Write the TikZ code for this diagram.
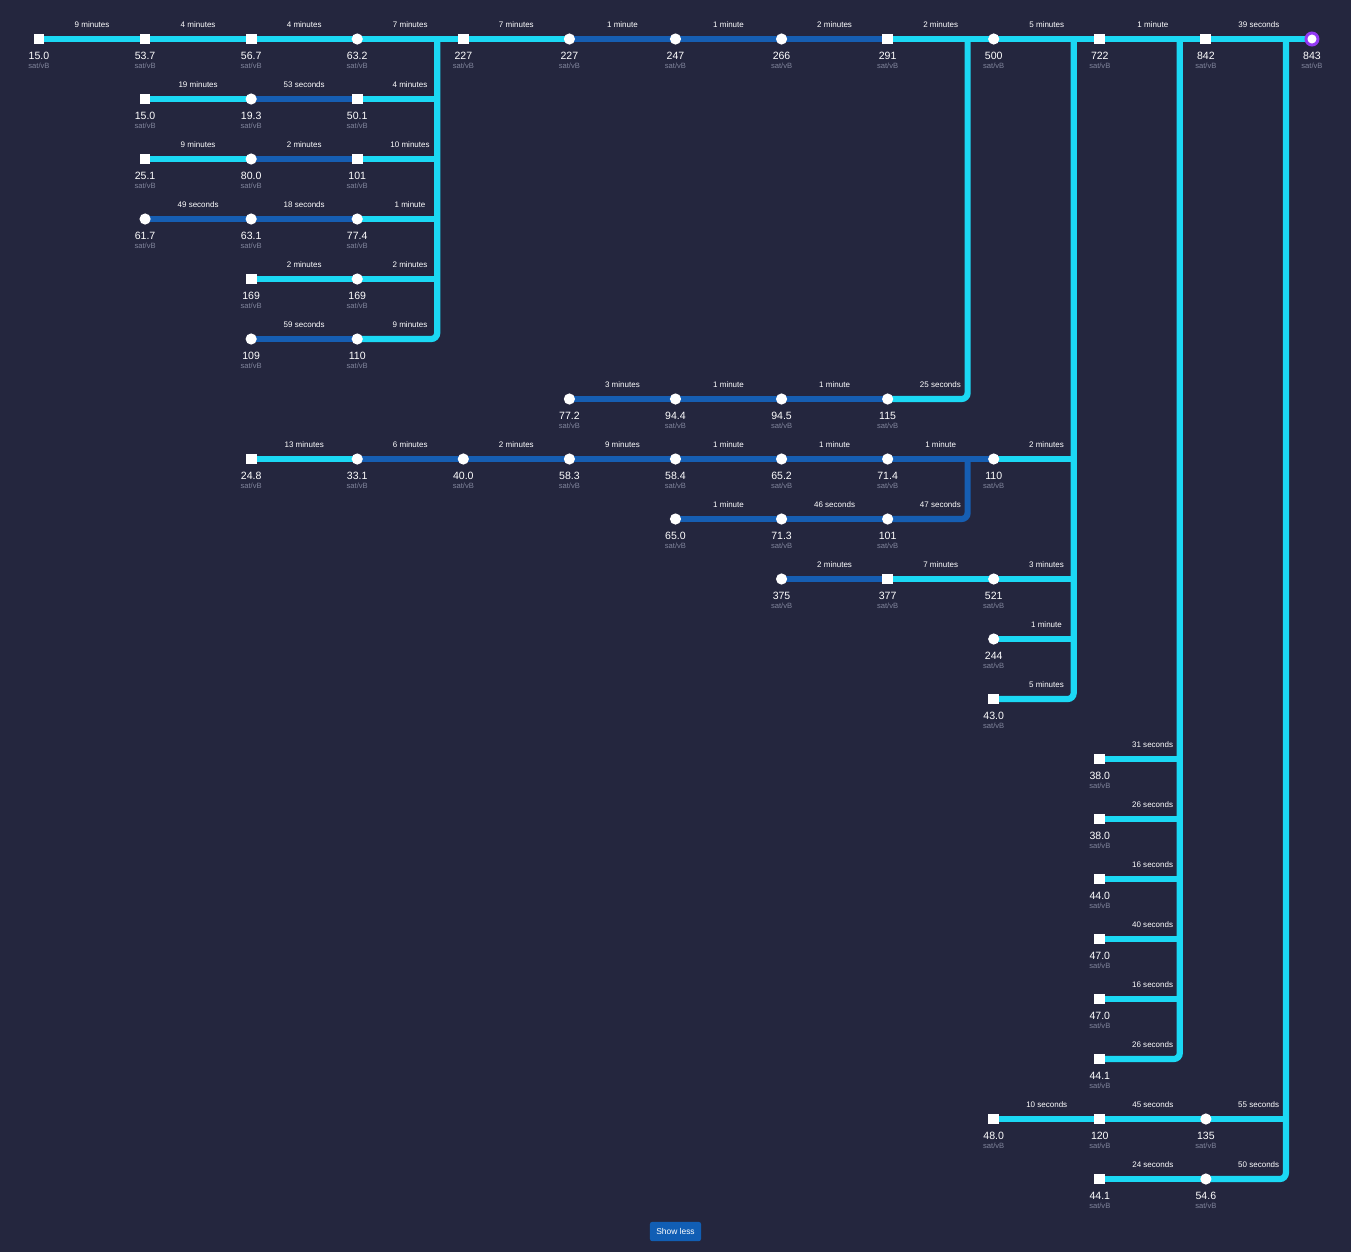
\documentclass[tikz,border=0pt]{standalone}
\usepackage{fontspec}
\setmainfont{Liberation Sans}
\pgfdeclarelayer{back}
\pgfdeclarelayer{lines}
\pgfsetlayers{back,lines,main}

\begin{document}
\begin{tikzpicture}[x=0.025cm, y=-0.025cm,
    every node/.style={font=\fontsize{7.5}{8}\selectfont, text=white},
    sq/.style={fill=white, minimum size=0.27cm, inner sep=0pt},
    dot/.style={circle, fill=white, minimum size=0.28cm, inner sep=0pt},
    root/.style={circle, fill=white, draw=purp, line width=2.1pt, minimum size=0.3cm, inner sep=0pt},
    cy/.style={draw=cyanline, line width=0.155cm},
    dk/.style={draw=darkline, line width=0.155cm},
    cyend/.style={cy, rounded corners=0.15cm},
    dkend/.style={dk, rounded corners=0.15cm},
    elab/.style={font=\fontsize{5.7}{6}\selectfont, inner sep=0pt, yshift=10pt},
    val/.style={inner sep=0pt},
    unit/.style={font=\fontsize{5.4}{6}\selectfont, text=unitgray, inner sep=0pt}]
        \definecolor{bgcol}{RGB}{36,38,62}
        \definecolor{cyanline}{RGB}{27,216,244}
        \definecolor{darkline}{RGB}{22,94,178}
        \definecolor{purp}{RGB}{147,57,244}
        \definecolor{unitgray}{RGB}{128,132,155}
        \definecolor{btn}{RGB}{17,94,180}
        \begin{pgfonlayer}{back}
          \fill[bgcol] (0,0) rectangle (1351,1252);
        \end{pgfonlayer}
        % transactions: name/column/row/shape/fee rate
        \foreach \n/\c/\r/\s/\v in {r0c0/0/0/sq/15.0, r0c1/1/0/sq/53.7, r0c2/2/0/sq/56.7,
            r0c3/3/0/dot/63.2, r0c4/4/0/sq/227, r0c5/5/0/dot/227, r0c6/6/0/dot/247,
            r0c7/7/0/dot/266, r0c8/8/0/sq/291, r0c9/9/0/dot/500, r0c10/10/0/sq/722,
            r0c11/11/0/sq/842, r0c12/12/0/root/843,
            r1c1/1/1/sq/15.0, r1c2/2/1/dot/19.3, r1c3/3/1/sq/50.1,
            r2c1/1/2/sq/25.1, r2c2/2/2/dot/80.0, r2c3/3/2/sq/101,
            r3c1/1/3/dot/61.7, r3c2/2/3/dot/63.1, r3c3/3/3/dot/77.4,
            r4c2/2/4/sq/169, r4c3/3/4/dot/169,
            r5c2/2/5/dot/109, r5c3/3/5/dot/110,
            r6c5/5/6/dot/77.2, r6c6/6/6/dot/94.4, r6c7/7/6/dot/94.5, r6c8/8/6/dot/115,
            r7c2/2/7/sq/24.8, r7c3/3/7/dot/33.1, r7c4/4/7/dot/40.0, r7c5/5/7/dot/58.3,
            r7c6/6/7/dot/58.4, r7c7/7/7/dot/65.2, r7c8/8/7/dot/71.4, r7c9/9/7/dot/110,
            r8c6/6/8/dot/65.0, r8c7/7/8/dot/71.3, r8c8/8/8/dot/101,
            r9c7/7/9/dot/375, r9c8/8/9/sq/377, r9c9/9/9/dot/521,
            r10c9/9/10/dot/244, r11c9/9/11/sq/43.0,
            r12c10/10/12/sq/38.0, r13c10/10/13/sq/38.0, r14c10/10/14/sq/44.0,
            r15c10/10/15/sq/47.0, r16c10/10/16/sq/47.0, r17c10/10/17/sq/44.1,
            r18c9/9/18/sq/48.0, r18c10/10/18/sq/120, r18c11/11/18/dot/135,
            r19c10/10/19/sq/44.1, r19c11/11/19/dot/54.6} {
          \node[\s] (\n) at ({39+106.08*\c},{39+60*\r}) {};
          \node[val] (\n-v) at ({39+106.08*\c},{56+60*\r}) {\v};
          \node[unit] (\n-u) at ({39+106.08*\c},{66+60*\r}) {sat/vB};
        }
        % tops of the vertical lines
        \coordinate (t1) at (437.2,39);
        \coordinate (t2) at (967.6,39);
        \coordinate (t3) at (1073.7,39);
        \coordinate (t4) at (1179.8,39);
        \coordinate (t5) at (1285.9,39);
        \coordinate (s1) at (967.6,459);
        \begin{pgfonlayer}{lines}
          \foreach \a/\b/\k/\t in {r0c0/r0c1/cy/9 minutes, r0c1/r0c2/cy/4 minutes,
              r0c2/r0c3/cy/4 minutes, r0c3/r0c4/cy/7 minutes, r0c4/r0c5/cy/7 minutes,
              r0c5/r0c6/dk/1 minute, r0c6/r0c7/dk/1 minute, r0c7/r0c8/dk/2 minutes,
              r0c8/r0c9/cy/2 minutes, r0c9/r0c10/cy/5 minutes, r0c10/r0c11/cy/1 minute,
              r0c11/r0c12/cy/39 seconds,
              r1c1/r1c2/cy/19 minutes, r1c2/r1c3/dk/53 seconds,
              r2c1/r2c2/cy/9 minutes, r2c2/r2c3/dk/2 minutes,
              r3c1/r3c2/dk/49 seconds, r3c2/r3c3/dk/18 seconds,
              r4c2/r4c3/cy/2 minutes, r5c2/r5c3/dk/59 seconds,
              r6c5/r6c6/dk/3 minutes, r6c6/r6c7/dk/1 minute, r6c7/r6c8/dk/1 minute,
              r7c2/r7c3/cy/13 minutes, r7c3/r7c4/dk/6 minutes, r7c4/r7c5/dk/2 minutes,
              r7c5/r7c6/dk/9 minutes, r7c6/r7c7/dk/1 minute, r7c7/r7c8/dk/1 minute,
              r7c8/r7c9/dk/1 minute,
              r8c6/r8c7/dk/1 minute, r8c7/r8c8/dk/46 seconds,
              r9c7/r9c8/dk/2 minutes, r9c8/r9c9/cy/7 minutes,
              r18c9/r18c10/cy/10 seconds, r18c10/r18c11/cy/45 seconds,
              r19c10/r19c11/cy/24 seconds}
            \draw[\k] (\a.center) -- node[elab] (\a-\b) {\t} (\b.center);
          \foreach \a/\b/\k/\t in {r1c3/t1/cy/4 minutes, r2c3/t1/cy/10 minutes,
              r3c3/t1/cy/1 minute, r4c3/t1/cy/2 minutes, r5c3/t1/cyend/9 minutes,
              r6c8/t2/cyend/25 seconds,
              r7c9/t3/cy/2 minutes, r8c8/s1/dkend/47 seconds, r9c9/t3/cy/3 minutes,
              r10c9/t3/cy/1 minute, r11c9/t3/cyend/5 minutes,
              r12c10/t4/cy/31 seconds, r13c10/t4/cy/26 seconds, r14c10/t4/cy/16 seconds,
              r15c10/t4/cy/40 seconds, r16c10/t4/cy/16 seconds, r17c10/t4/cyend/26 seconds,
              r18c11/t5/cy/55 seconds, r19c11/t5/cyend/50 seconds}
            \draw[\k] (\a.center) -| node[elab, pos=0.33] (\a-\b) {\t} (\b);
        \end{pgfonlayer}
        \node[fill=btn, rounded corners=1.5pt, minimum width=1.275cm, minimum height=0.48cm,
          inner sep=0pt, font=\fontsize{6}{7}\selectfont] (more) at (675.5,1231.5) {Show less};
      \end{tikzpicture}
\end{document}
